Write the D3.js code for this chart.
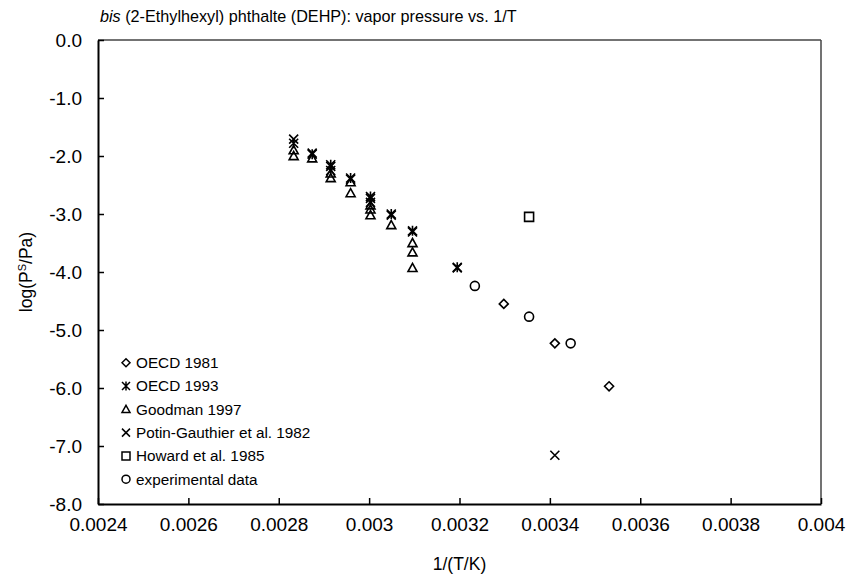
<!DOCTYPE html>
<html>
<head>
<meta charset="utf-8">
<script src="https://cdn.jsdelivr.net/npm/d3@7"></script>
<style>
  html, body { margin: 0; padding: 0; background: #fff; }
  svg { display: block; font-family: "Liberation Sans", Arial, sans-serif; }
</style>
</head>
<body>
<svg id="chart" width="850" height="579"></svg>
<script>
// ---- Data ----
const xTicks = [0.0024, 0.0026, 0.0028, 0.003, 0.0032, 0.0034, 0.0036, 0.0038, 0.004];
const xTickLabels = ["0.0024", "0.0026", "0.0028", "0.003", "0.0032", "0.0034", "0.0036", "0.0038", "0.004"];
const yTicks = [0, -1, -2, -3, -4, -5, -6, -7, -8];
const yTickLabels = ["0.0", "-1.0", "-2.0", "-3.0", "-4.0", "-5.0", "-6.0", "-7.0", "-8.0"];

const oecd1981X = [0.003298, 0.003411, 0.003531];
const oecd1981Y = [-4.55, -5.23, -5.97];

const oecd1993X = [0.002833, 0.002874, 0.002915, 0.002915, 0.002959, 0.003003, 0.003003, 0.003049, 0.003096, 0.003195];
const oecd1993Y = [-1.78, -1.97, -2.15, -2.25, -2.38, -2.70, -2.80, -3.00, -3.29, -3.92];

const goodmanX = [0.002833, 0.002833, 0.002874, 0.002915, 0.002915, 0.002959, 0.002959, 0.003003, 0.003003, 0.003003, 0.003049, 0.003096, 0.003096, 0.003096];
const goodmanY = [-1.90, -2.00, -2.04, -2.30, -2.38, -2.45, -2.64, -2.85, -2.92, -3.02, -3.19, -3.50, -3.66, -3.93];

const potinX = [0.002833, 0.002874, 0.002915, 0.002959, 0.003003, 0.003049, 0.003096, 0.003195, 0.003411];
const potinY = [-1.71, -1.95, -2.18, -2.40, -2.73, -3.02, -3.31, -3.93, -7.16];

const howardX = [0.003354];
const howardY = [-3.05];

const expX = [0.003234, 0.003354, 0.003446];
const expY = [-4.24, -4.77, -5.23];

const seriesNames = ["OECD 1981", "OECD 1993", "Goodman 1997", "Potin-Gauthier et al. 1982", "Howard et al. 1985", "experimental data"];
const seriesMarkers = ["diamond", "star", "triangle", "x", "square", "circle"];

const series = [
  { name: seriesNames[0], marker: seriesMarkers[0], x: oecd1981X, y: oecd1981Y },
  { name: seriesNames[1], marker: seriesMarkers[1], x: oecd1993X, y: oecd1993Y },
  { name: seriesNames[2], marker: seriesMarkers[2], x: goodmanX, y: goodmanY },
  { name: seriesNames[3], marker: seriesMarkers[3], x: potinX, y: potinY },
  { name: seriesNames[4], marker: seriesMarkers[4], x: howardX, y: howardY },
  { name: seriesNames[5], marker: seriesMarkers[5], x: expX, y: expY }
];

// ---- Layout ----
const L = 98, R = 821, T = 40, B = 504;
const svg = d3.select("#chart");

const x = d3.scaleLinear().domain([0.0024, 0.004]).range([L, R]);
const y = d3.scaleLinear().domain([-8, 0]).range([B, T]);

function markerPath(type, r) {
  const p = d3.path();
  switch (type) {
    case "diamond":
      p.moveTo(0, -r); p.lineTo(r, 0); p.lineTo(0, r); p.lineTo(-r, 0); p.closePath(); break;
    case "triangle":
      p.moveTo(0, -r); p.lineTo(r, r * 0.8); p.lineTo(-r, r * 0.8); p.closePath(); break;
    case "square":
      p.rect(-r, -r, 2 * r, 2 * r); break;
    case "circle":
      p.arc(0, 0, r, 0, 2 * Math.PI); break;
    case "x":
      p.moveTo(-r, -r); p.lineTo(r, r); p.moveTo(-r, r); p.lineTo(r, -r); break;
    case "star":
      p.moveTo(-r, -r); p.lineTo(r, r); p.moveTo(-r, r); p.lineTo(r, -r);
      p.moveTo(0, -r - 0.5); p.lineTo(0, r + 0.5); break;
  }
  return p.toString();
}

// ---- Frame (top/right thin) ----
svg.append("line").attr("x1", L).attr("x2", R).attr("y1", T).attr("y2", T)
  .attr("stroke", "#444").attr("stroke-width", 1.5);
svg.append("line").attr("x1", R).attr("x2", R).attr("y1", T).attr("y2", B)
  .attr("stroke", "#444").attr("stroke-width", 1.5);

// ---- Axes ----
const xAxis = d3.axisBottom(x).tickValues(xTicks)
  .tickFormat((d, i) => xTickLabels[i]).tickSizeInner(-6).tickSizeOuter(0).tickPadding(14);
const gx = svg.append("g").attr("transform", `translate(0,${B})`).call(xAxis);
gx.select(".domain").attr("stroke", "#000").attr("stroke-width", 2);
gx.selectAll(".tick line").attr("stroke", "#000").attr("stroke-width", 1.5);
gx.selectAll(".tick text").attr("font-size", 19).attr("fill", "#000")
  .attr("font-family", "Liberation Sans, Arial, sans-serif");

const yAxis = d3.axisLeft(y).tickValues(yTicks)
  .tickFormat((d, i) => yTickLabels[i]).tickSizeInner(-6).tickSizeOuter(0).tickPadding(16);
const gy = svg.append("g").attr("transform", `translate(${L},0)`).call(yAxis);
gy.select(".domain").attr("stroke", "#000").attr("stroke-width", 2);
gy.selectAll(".tick line").attr("stroke", "#000").attr("stroke-width", 1.5);
gy.selectAll(".tick text").attr("font-size", 19).attr("fill", "#000")
  .attr("font-family", "Liberation Sans, Arial, sans-serif");

// ---- Points ----
series.forEach(s => {
  const pts = s.x.map((v, i) => [v, s.y[i]]);
  svg.append("g").selectAll("path").data(pts).join("path")
    .attr("transform", d => `translate(${x(d[0])},${y(d[1])})`)
    .attr("d", markerPath(s.marker, 4.5))
    .attr("fill", "none").attr("stroke", "#000").attr("stroke-width", 1.6);
});

// ---- Legend ----
const legY0 = 362.7, legDy = 23.3;
series.forEach((s, i) => {
  const g = svg.append("g").attr("transform", `translate(126,${legY0 + i * legDy})`);
  g.append("path").attr("d", markerPath(s.marker, 4))
    .attr("fill", "none").attr("stroke", "#000").attr("stroke-width", 1.5);
  g.append("text").attr("x", 10).attr("y", 0).attr("dy", "0.35em")
    .attr("font-size", 15.3).text(s.name);
});

// ---- Titles ----
const title = svg.append("text").attr("x", 100).attr("y", 22).attr("font-size", 16.2);
title.append("tspan").attr("font-style", "italic").text("bis");
title.append("tspan").text(" (2-Ethylhexyl) phthalte (DEHP): vapor pressure vs. 1/T");

svg.append("text").attr("x", (L + R) / 2).attr("y", 570).attr("text-anchor", "middle")
  .attr("font-size", 17.5).text("1/(T/K)");

const yl = svg.append("text").attr("transform", `translate(32,${(T + B) / 2}) rotate(-90)`)
  .attr("text-anchor", "middle").attr("font-size", 17.5);
yl.append("tspan").text("log(P");
yl.append("tspan").attr("baseline-shift", "super").attr("font-size", 11).text("S");
yl.append("tspan").text("/Pa)");
</script>
</body>
</html>
